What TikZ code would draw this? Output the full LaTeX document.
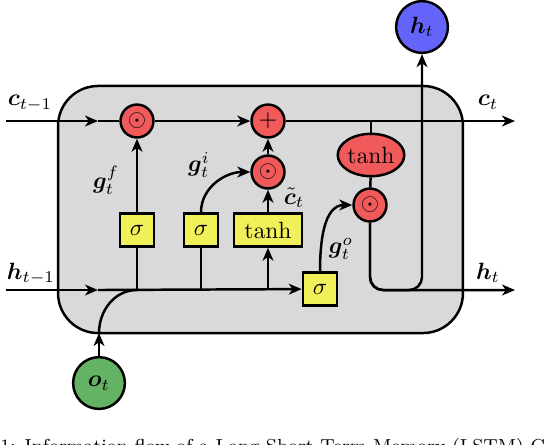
\documentclass[tikz,border=0pt]{standalone}
\usepackage{bm}
\usetikzlibrary{arrows.meta,shapes.geometric}
\definecolor{cellgray}{RGB}{217,217,217}
\definecolor{gatered}{RGB}{240,90,90}
\definecolor{gateyellow}{RGB}{240,240,90}
\definecolor{nodeblue}{RGB}{100,100,250}
\definecolor{nodegreen}{RGB}{100,178,100}
\begin{document}
\begin{tikzpicture}[x=0.425pt,y=-0.425pt,
  >={Stealth[length=5.5pt,width=4.6pt,inset=1.6pt]},
  line width=1.05pt,
  op/.style={circle, draw, fill=gatered, minimum size=14pt, inner sep=0pt},
  gatebox/.style={rectangle, draw, fill=gateyellow, minimum width=14.5pt, minimum height=14pt, inner sep=0pt},
  widebox/.style={gatebox, minimum width=29pt},
  actell/.style={ellipse, draw, fill=gatered, minimum width=25pt, minimum height=18pt, inner sep=0pt},
  io/.style={circle, draw, minimum size=22pt, inner sep=0pt},
  lbl/.style={inner sep=1pt}]
\useasboundingbox (0,0) rectangle (546,444);
\node[draw, fill=cellgray, rounded corners=17pt, minimum width=172.1pt, minimum height=105pt, inner sep=0pt] (cell) at (260.5,209.5) {};

% operation nodes
\node[op] (fmul) at (137,121) {$\odot$};
\node[op] (add) at (268,121) {$+$};
\node[op] (imul) at (268,172) {$\odot$};
\node[op] (omul) at (370,205) {$\odot$};
\node[actell] (tanhc) at (371,155) {$\tanh$};
\node[gatebox] (fsig) at (137,230) {$\sigma$};
\node[gatebox] (isig) at (201,230) {$\sigma$};
\node[widebox] (ctanh) at (268,230) {$\tanh$};
\node[gatebox] (osig) at (320,289) {$\sigma$};
\node[io, fill=nodeblue] (ht) at (422,27) {$\bm{h}_t$};
\node[io, fill=nodegreen] (ot) at (99,383) {$\bm{o}_t$};

% junction coordinates
\coordinate (cin) at (6,121);
\coordinate (carr) at (98,121);
\coordinate (cout) at (515,121);
\coordinate (cj) at (371,121);
\coordinate (hin) at (6,290);
\coordinate (harr) at (98,290);
\coordinate (hj1) at (137,290);
\coordinate (hj2) at (201,290);
\coordinate (hj3) at (268,290);
\coordinate (hout) at (515,290);
\coordinate (hup) at (422,290);
\coordinate (oin) at (99,333);

% cell state
\draw[->] (cin) -- (carr);
\draw (carr) -- (fmul);
\draw[->] (fmul) -- (add);
\draw[->] (add) -- (cout);
\draw (cj) -- (tanhc);
\draw (tanhc) -- (omul);

% hidden state
\draw[->] (hin) -- (harr);
\draw[->] (harr) -- (osig);
\draw (hj1) -- (fsig);
\draw[->] (fsig) -- (fmul);
\draw (hj2) -- (isig);
\draw[->] (isig.north) to[out=90,in=180] (imul.west);
\draw[->] (hj3) -- (ctanh);
\draw[->] (ctanh) -- (imul);
\draw[->] (imul) -- (add);
\draw[->] (osig.north) to[out=90,in=180] (omul.west);
\draw[->, rounded corners=5.5pt] (omul.south) |- (hout);
\draw[->, rounded corners=5.5pt] (omul.south) |- (hup) -- (ht.south);
\draw[->] (ot) -- (oin);
\draw (oin) to[out=90,in=180] (hj1);

% labels
\node[lbl] (lcin) at (30,103) {$\bm{c}_{t-1}$};
\node[lbl] (lhin) at (31,274) {$\bm{h}_{t-1}$};
\node[lbl] (lcout) at (488,102) {$\bm{c}_t$};
\node[lbl] (lhout) at (488,273) {$\bm{h}_t$};
\node[lbl] (lgf) at (106,180) {$\bm{g}_t^f$};
\node[lbl] (lgi) at (199,165) {$\bm{g}_t^i$};
\node[lbl] (lct) at (294,198) {$\tilde{\bm{c}}_t$};
\node[lbl] (lgo) at (341,249) {$\bm{g}_t^o$};

% clipped caption
\node[anchor=north west, inner sep=0pt, font=\fontsize{8}{10}\selectfont] (cap) at (-1,437) {1: Information flow of a Long Short-Term Memory (LSTM) Cell};
\end{tikzpicture}
\end{document}
